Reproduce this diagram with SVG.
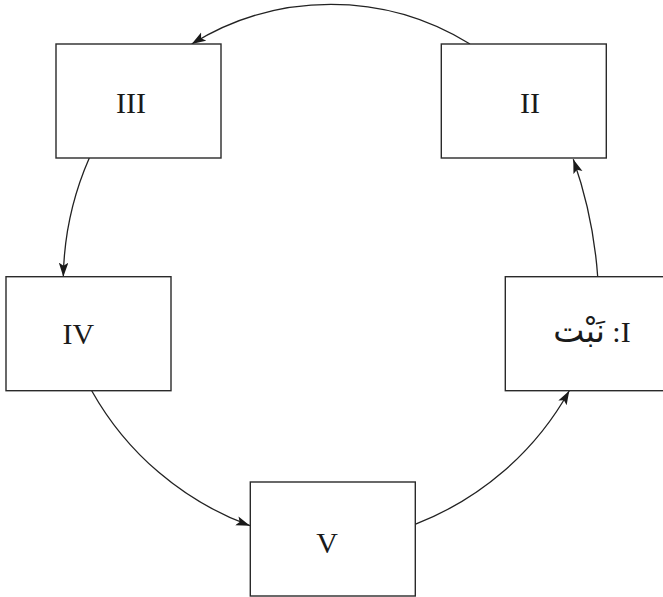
<svg xmlns="http://www.w3.org/2000/svg" width="663" height="597" viewBox="0 0 663 597">
<style>
.box{fill:#fff;stroke:#2a2a2a;stroke-width:1.4}
.lbl{font-family:"Liberation Serif","DejaVu Sans",serif;font-size:30px;fill:#1a1a1a;text-anchor:middle}
.con{fill:none;stroke:#222;stroke-width:1.3;marker-end:url(#ah)}
</style>
<defs>
<marker id="ah" markerWidth="15" markerHeight="10" refX="14" refY="4.75" orient="auto" markerUnits="userSpaceOnUse">
<path d="M0,0 L14,4.75 L0,9.5 L3,4.75 Z" fill="#1a1a1a"/>
</marker>
</defs>
<rect width="663" height="597" fill="#fff"/>
<g id="connectors">
<path class="con" d="M470,44 A264,264 0 0 0 191.7,44"/>
<path class="con" d="M89.3,158 A310,310 0 0 0 63.3,276.7"/>
<path class="con" d="M91.7,390.7 A300,300 0 0 0 250,525.7"/>
<path class="con" d="M415,524.3 A300,300 0 0 0 569.3,390.7"/>
<path class="con" d="M597.7,276.7 A450,450 0 0 0 573.3,159.3"/>
</g>
<g id="node-III">
<rect class="box" x="56" y="44" width="165" height="114"/>
<text class="lbl" x="131" y="113">III</text>
</g>
<g id="node-II">
<rect class="box" x="441.3" y="44" width="165" height="114"/>
<text class="lbl" x="530" y="113">II</text>
</g>
<g id="node-IV">
<rect class="box" x="6" y="276.7" width="165" height="114"/>
<text class="lbl" x="78.3" y="344">IV</text>
</g>
<g id="node-I">
<rect class="box" x="505.3" y="276.7" width="165" height="114"/>
<text class="lbl" x="592" y="341.7" direction="rtl" unicode-bidi="embed">I: <tspan style="font-size:33px">نَبْت</tspan></text>
</g>
<g id="node-V">
<rect class="box" x="250.3" y="482" width="165" height="114"/>
<text class="lbl" x="327" y="553.3">V</text>
</g>
</svg>
